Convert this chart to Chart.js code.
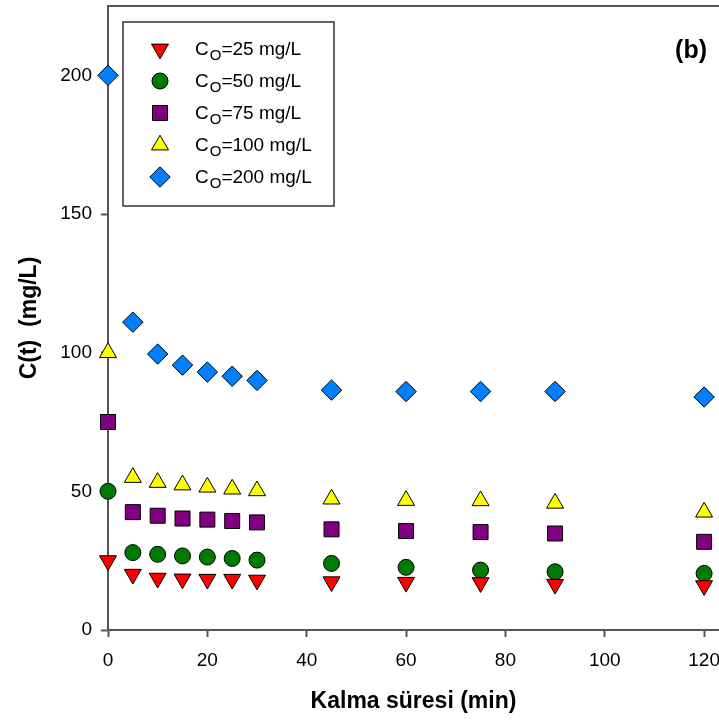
<!DOCTYPE html>
<html>
<head>
<meta charset="utf-8">
<script src="https://cdn.jsdelivr.net/npm/chart.js@4/dist/chart.umd.min.js"></script>
<style>
    body { margin: 0; background: #fff; }
    #kinetics_chart { display: block; }
</style>
</head>
<body>
<canvas id="kinetics_chart" width="719" height="722"></canvas>
<script>
// contact time (min)
const times = [0, 5, 10, 15, 20, 25, 30, 45, 60, 75, 90, 120]
// remaining concentration C(t) for each initial concentration
const c25 = [25, 20.1, 18.7, 18.4, 18.3, 18.3, 18.0, 17.4, 17.2, 17.1, 16.5, 16.0]
const c50 = [50, 27.9, 27.3, 26.7, 26.3, 25.8, 25.2, 24.0, 22.6, 21.6, 21.0, 20.4]
const c75 = [75, 42.5, 41.2, 40.2, 39.8, 39.3, 38.8, 36.3, 35.7, 35.3, 34.8, 31.8]
const c100 = [100, 55.0, 53.2, 52.3, 51.5, 50.8, 50.2, 47.2, 46.7, 46.6, 45.7, 42.5]
const c200 = [200, 111, 99.5, 95.5, 93, 91.5, 90, 86.5, 86, 86, 86, 84]

const seriesLabels = ['=25 mg/L', '=50 mg/L', '=75 mg/L', '=100 mg/L', '=200 mg/L']
const xTicks = [0, 20, 40, 60, 80, 100, 120]
const yTicks = [0, 50, 100, 150, 200]

const FONT = "'Liberation Sans', Arial, sans-serif"
const AXIS_COLOR = '#555'

function toPoints(values){
    let pts = []
    for (let i = 0; i < times.length; i++){
        pts.push({x: times[i], y: values[i]})
    }
    return pts
}

const markerStyles = [
    {pointStyle: 'triangle', rotation: 180, radius: 9.8, color: '#ff0000'},
    {pointStyle: 'circle', rotation: 0, radius: 8, color: '#007a00'},
    {pointStyle: 'rect', rotation: 0, radius: 10.6, color: '#800080'},
    {pointStyle: 'triangle', rotation: 0, radius: 9.8, color: '#ffff00'},
    {pointStyle: 'rectRot', rotation: 0, radius: 10.2, color: '#0080ff'}
]
const seriesData = [c25, c50, c75, c100, c200]

function makeDataset(i){
    const m = markerStyles[i]
    return {
        label: 'C0' + seriesLabels[i],
        data: toPoints(seriesData[i]),
        showLine: false,
        clip: false,
        pointStyle: m.pointStyle,
        pointRotation: m.rotation,
        pointRadius: m.radius,
        pointHoverRadius: m.radius,
        backgroundColor: m.color,
        borderColor: '#000',
        pointBorderWidth: 1
    }
}

// legend box with subscripted C_O, drawn inside the plot
const boxLegend = {
    id: 'boxLegend',
    afterDatasetsDraw: function (chart){
        const ctx = chart.ctx
        const area = chart.chartArea
        const bx = area.left + 15
        const by = area.top + 16
        const bw = 211
        const bh = 184
        ctx.save()
        ctx.fillStyle = '#fff'
        ctx.fillRect(bx, by, bw, bh)
        ctx.strokeStyle = '#333'
        ctx.lineWidth = 1.5
        ctx.strokeRect(bx, by, bw, bh)
        for (let i = 0; i < markerStyles.length; i++){
            const m = markerStyles[i]
            const rowY = by + 27 + i * 32
            ctx.fillStyle = m.color
            ctx.strokeStyle = '#000'
            ctx.lineWidth = 1
            Chart.helpers.drawPoint(ctx, {
                pointStyle: m.pointStyle,
                rotation: m.rotation,
                radius: m.radius,
                borderWidth: 1
            }, bx + 37, rowY)
            let tx = bx + 72
            ctx.fillStyle = '#000'
            ctx.textAlign = 'left'
            ctx.textBaseline = 'alphabetic'
            ctx.font = '19px ' + FONT
            ctx.fillText('C', tx, rowY + 6)
            tx += ctx.measureText('C').width + 1
            ctx.font = '15px ' + FONT
            ctx.fillText('O', tx, rowY + 11)
            tx += ctx.measureText('O').width
            ctx.font = '19px ' + FONT
            ctx.fillText(seriesLabels[i], tx, rowY + 6)
        }
        // panel tag and top frame line
        ctx.font = 'bold 25px ' + FONT
        ctx.textAlign = 'right'
        ctx.textBaseline = 'middle'
        ctx.fillText('(b)', area.right - 12, area.top + 45)
        ctx.strokeStyle = AXIS_COLOR
        ctx.lineWidth = 2
        ctx.beginPath()
        ctx.moveTo(area.left, area.top)
        ctx.lineTo(area.right, area.top)
        ctx.stroke()
        ctx.restore()
    }
}

const kineticsChart = new Chart(document.getElementById('kinetics_chart').getContext('2d'), {
    type: 'scatter',
    data: {
        datasets: [0, 1, 2, 3, 4].map(makeDataset)
    },
    options: {
        responsive: false,
        animation: false,
        layout: {autoPadding: false, padding: {top: 6, right: 0, left: 0, bottom: 0}},
        plugins: {
            legend: {display: false},
            tooltip: {enabled: false}
        },
        scales: {
            x: {
                type: 'linear',
                min: 0,
                max: 123,
                afterBuildTicks: function (scale){
                    scale.ticks = xTicks.map(v => ({value: v}))
                },
                afterFit: function (scale){
                    scale.height = 92
                    scale.paddingLeft = 0
                    scale.paddingRight = 0
                },
                ticks: {
                    color: '#000',
                    font: {family: FONT, size: 19},
                    padding: 12,
                    maxRotation: 0
                },
                grid: {
                    drawOnChartArea: false,
                    drawTicks: true,
                    tickLength: 7,
                    tickColor: AXIS_COLOR,
                    tickWidth: 2
                },
                border: {display: true, color: AXIS_COLOR, width: 2},
                title: {
                    display: true,
                    text: 'Kalma süresi (min)',
                    color: '#000',
                    font: {family: FONT, size: 23, weight: 'bold'},
                    padding: {top: 0, bottom: 7}
                }
            },
            y: {
                type: 'linear',
                min: 0,
                max: 225,
                afterBuildTicks: function (scale){
                    scale.ticks = yTicks.map(v => ({value: v}))
                },
                afterFit: function (scale){
                    scale.width = 108
                    scale.paddingTop = 0
                    scale.paddingBottom = 0
                },
                ticks: {
                    color: '#000',
                    font: {family: FONT, size: 19},
                    padding: 9
                },
                grid: {
                    drawOnChartArea: false,
                    drawTicks: true,
                    tickLength: 7,
                    tickColor: AXIS_COLOR,
                    tickWidth: 2
                },
                border: {display: true, color: AXIS_COLOR, width: 2},
                title: {
                    display: true,
                    text: 'C(t)  (mg/L)',
                    color: '#000',
                    font: {family: FONT, size: 23, weight: 'bold'},
                    padding: {top: 16, bottom: 0}
                }
            }
        }
    },
    plugins: [boxLegend]
})
</script>
</body>
</html>
